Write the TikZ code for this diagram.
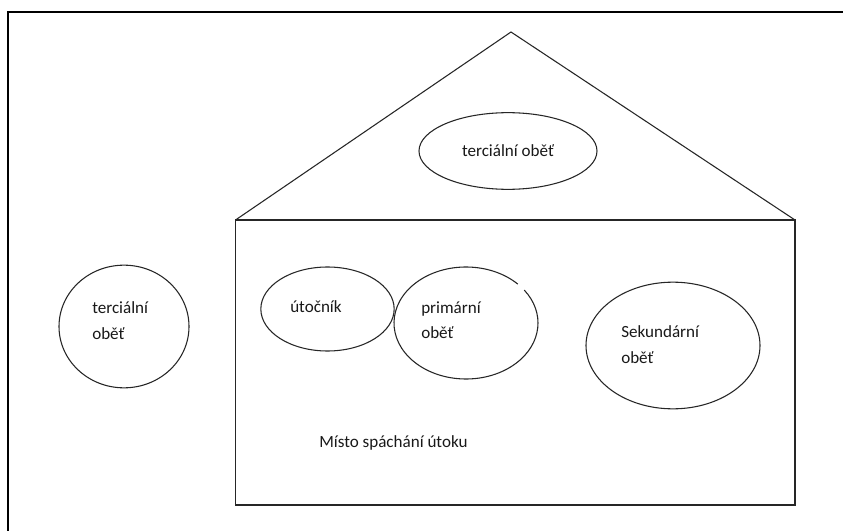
\documentclass[tikz,border=0pt]{standalone}
\usepackage{fontspec}
\setmainfont{Carlito}
\usetikzlibrary{shapes.geometric}
\begin{document}
\begin{tikzpicture}[x=0.75pt,y=-0.75pt,
  shape line/.style={draw=black!85,line width=0.8pt},
  oval/.style={shape line,ellipse,inner sep=0pt},
  lbl/.style={font=\fontsize{12.8}{19}\selectfont,align=left,inner sep=0pt,anchor=west,text=black!90}]
\useasboundingbox (0,0) rectangle (843,531);
\fill[white] (0,0) rectangle (843,531);
% outer frame
\coordinate (fb) at (8,531);
\coordinate (ftl) at (8,12);
\coordinate (fr) at (843,12);
\draw[line width=1.6pt] (fb) -- (ftl) -- (fr);
% house
\coordinate (hl) at (235.5,220);
\coordinate (hr) at (795,220);
\coordinate (apex) at (511,32);
\coordinate (bl) at (235.5,505);
\coordinate (br) at (795,505);
\draw[shape line] (hl) -- (apex) -- (hr);
\draw[shape line] (hl) -- (hr) -- (br) -- (bl) -- cycle;
% ovals
\node[oval,minimum width=133.5pt,minimum height=57.5pt] (top) at (508,151) {};
\node[oval,minimum width=97.5pt,minimum height=92pt] (left) at (124,326.5) {};
\node[oval,minimum width=100pt,minimum height=63pt] (att) at (327.5,309) {};
\node[inner sep=0pt,minimum width=108pt,minimum height=84pt] (prim) at (466,323) {};
\draw[shape line] ([shift={(44:54pt and 42pt)}]prim.center) arc[start angle=44,end angle=396,x radius=54pt,y radius=42pt];
\node[oval,minimum width=130.5pt,minimum height=95pt] (sek) at (673,345.5) {};
% labels
\node[lbl,anchor=center] (ttop) at (top.center) {terciální oběť};
\node[lbl] (tleft) at (92,320.5) {terciální\\oběť};
\node[lbl] (tatt) at (290,307) {útočník};
\node[lbl] (tprim) at (421,320.5) {primární\\oběť};
\node[lbl] (tsek) at (621,344.5) {Sekundární\\oběť};
\node[lbl] (place) at (319,442.5) {Místo spáchání útoku};
\end{tikzpicture}
\end{document}
